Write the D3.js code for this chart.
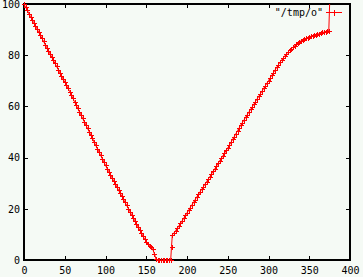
<!DOCTYPE html>
<html>
<head>
<meta charset="UTF-8">
<script src="https://d3js.org/d3.v7.min.js"></script>
<style>
  body { margin: 0; background: #f5faf5; }
  svg { display: block; }
  text { font-family: "DejaVu Sans Mono", monospace; font-size: 10px; fill: #000; }
  .series { fill: none; stroke: #f00; stroke-width: 1; }
  .mark { fill: none; stroke: #f00; stroke-width: 1; shape-rendering: crispEdges; }
</style>
</head>
<body>
<svg width="363" height="277"></svg>
<script>
// data (x, percent)
const xs = [
  0, 2, 4, 6, 8, 10, 12, 14, 16, 18, 20, 22, 24, 26, 28, 30, 32, 34, 36, 38, 40,
  42, 44, 46, 48, 50, 52, 54, 56, 58, 60, 62, 64, 66, 68, 70, 72, 74, 76, 78, 80,
  82, 84, 86, 88, 90, 92, 94, 96, 98, 100, 102, 104, 106, 108, 110, 112, 114, 116,
  118, 120, 122, 124, 126, 128, 130, 132, 134, 136, 138, 140, 142, 144, 146, 148,
  150, 152, 154, 156, 158, 160, 162, 164, 166, 168, 170, 172, 174, 176, 178, 180,
  181, 182, 184, 186, 188, 190, 192, 194, 196, 198, 200, 202, 204, 206, 208, 210,
  212, 214, 216, 218, 220, 222, 224, 226, 228, 230, 232, 234, 236, 238, 240, 242,
  244, 246, 248, 250, 252, 254, 256, 258, 260, 262, 264, 266, 268, 270, 272, 274,
  276, 278, 280, 282, 284, 286, 288, 290, 292, 294, 296, 298, 300, 302, 304, 306,
  308, 310, 312, 314, 316, 318, 320, 322, 324, 326, 328, 330, 332, 334, 336, 338,
  340, 342, 344, 346, 348, 350, 352, 354, 356, 358, 360, 362, 364, 366, 368, 370,
  372, 374, 375
];
const ys = [
  100.0, 98.7, 97.6, 96.2, 95.1, 93.8, 92.7, 91.4, 90.3, 89.0, 87.8, 86.6, 85.4,
  84.1, 82.9, 81.7, 80.5, 79.3, 78.0, 76.8, 75.6, 74.4, 73.1, 71.9, 70.7, 69.5,
  68.3, 67.1, 65.8, 64.5, 63.2, 61.8, 60.5, 59.2, 57.9, 56.6, 55.3, 54.0, 52.7,
  51.4, 50.1, 48.8, 47.5, 46.1, 44.8, 43.5, 42.2, 40.9, 39.6, 38.3, 37.0, 35.7,
  34.5, 33.3, 32.1, 30.9, 29.7, 28.5, 27.3, 26.1, 24.9, 23.7, 22.5, 21.3, 20.1,
  18.9, 17.7, 16.5, 15.3, 14.1, 12.9, 11.7, 10.5, 9.3, 8.2, 7.2, 6.2, 5.5, 4.9,
  4.2, 2.4, 0.4, 0, 0, 0, 0, 0, 0, 0, 0, 0,
  5.2, 9.8, 10.6, 11.5, 12.4, 13.3, 14.3, 15.3, 16.3, 17.4, 18.4, 19.4, 20.5,
  21.5, 22.5, 23.6, 24.6, 25.6, 26.6, 27.6, 28.6, 29.6, 30.6, 31.6, 32.6, 33.6,
  34.6, 35.6, 36.6, 37.7, 38.7, 39.7, 40.7, 41.7, 42.8, 43.8, 44.9, 46.0, 47.1,
  48.2, 49.4, 50.5, 51.6, 52.7, 53.7, 54.7, 55.8, 56.8, 57.8, 58.8, 59.8, 60.8,
  61.9, 62.9, 63.9, 64.9, 65.9, 67.0, 68.0, 69.0, 70.1, 71.1, 72.1, 73.1, 74.2,
  75.2, 76.2, 77.2, 78.1, 78.9, 79.7, 80.5, 81.2, 82.0, 82.6, 83.1, 83.7, 84.2,
  84.8, 85.3, 85.6, 86.0, 86.3, 86.6, 86.9, 87.2, 87.4, 87.6, 87.8, 88.0, 88.2,
  88.4, 88.6, 88.9, 89.0, 89.2, 89.4, 89.6, 100
];
const xTicks = [0, 50, 100, 150, 200, 250, 300, 350, 400];
const yTicks = [0, 20, 40, 60, 80, 100];
const seriesName = '"/tmp/o"';

const svg = d3.select("svg");
const x = d3.scaleLinear().domain([0, 400]).range([24, 350]);
const y = d3.scaleLinear().domain([0, 100]).range([260, 4]);
const pts = xs.map((v, i) => [v, ys[i]]);

// tick marks point inward on all four sides, labels only bottom/left
const axes = [
  [d3.axisBottom(x).tickValues(xTicks).tickSizeInner(-4).tickSizeOuter(0).tickPadding(7), 0, 260, true],
  [d3.axisTop(x).tickValues(xTicks).tickSizeInner(-4).tickSizeOuter(0), 0, 4, false],
  [d3.axisLeft(y).tickValues(yTicks).tickSizeInner(-4).tickSizeOuter(0).tickPadding(4), 24, 0, true],
  [d3.axisRight(y).tickValues(yTicks).tickSizeInner(-4).tickSizeOuter(0), 350, 0, false]
];
axes.forEach(([ax, tx, ty, labels]) => {
  const g = svg.append("g").attr("transform", `translate(${tx},${ty})`).call(ax);
  g.select(".domain").remove();
  g.selectAll("line").attr("stroke", "#000").attr("stroke-width", 1).attr("shape-rendering", "crispEdges");
  g.selectAll("text").attr("font-size", null).attr("font-family", null);
  if (!labels) g.selectAll("text").remove();
});

svg.append("rect")
  .attr("x", 24).attr("y", 4).attr("width", 326).attr("height", 256)
  .attr("fill", "none").attr("stroke", "#000").attr("stroke-width", 2);

const line = d3.line().x(d => x(d[0])).y(d => y(d[1]));
svg.append("path").datum(pts).attr("class", "series").attr("d", line);

const plus = (cx, cy, r) => `M${cx - r},${cy}H${cx + r}M${cx},${cy - r}V${cy + r}`;
// the last sample sits on the top border, its marker is hidden there
svg.append("path").attr("class", "mark")
  .attr("d", pts.slice(0, -1).map(d => plus(Math.round(x(d[0])) + 0.5, Math.round(y(d[1])) + 0.5, 2.5)).join(""));

// key
svg.append("text").attr("x", 323).attr("y", 16).attr("text-anchor", "end").text(seriesName);
svg.append("line").attr("x1", 326).attr("x2", 342).attr("y1", 12.5).attr("y2", 12.5)
  .attr("stroke", "#f00").attr("shape-rendering", "crispEdges");
svg.append("path").attr("class", "mark").attr("d", plus(334.5, 12.5, 3));
</script>
</body>
</html>
